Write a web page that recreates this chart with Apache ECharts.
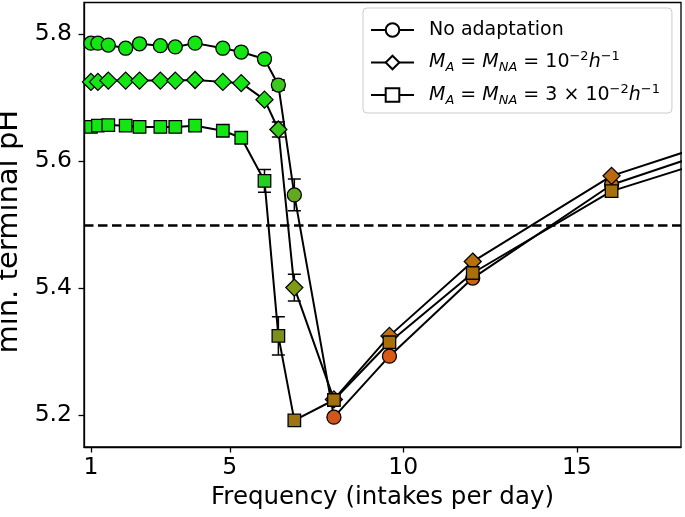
<!DOCTYPE html>
<html><head><meta charset="utf-8">
<script src="https://cdn.jsdelivr.net/npm/echarts@6/dist/echarts.min.js"></script>
<style>html,body{margin:0;padding:0;background:#fff}#c{width:685px;height:517px}</style>
</head><body><div id="c"></div>
<script>
// ---- data ----
const freq = [1, 1.2, 1.5, 2, 2.4, 3, 3.43, 4, 4.8, 5.33, 6, 6.4, 6.86, 8, 9.6, 12, 16, 24];
const phNoAdapt = [5.786, 5.786, 5.783, 5.778, 5.785, 5.782, 5.780, 5.786, 5.778, 5.772, 5.761, 5.720, 5.547, 5.197, 5.293, 5.416, 5.563, 5.71];
const phM1 = [5.725, 5.725, 5.727, 5.727, 5.727, 5.727, 5.727, 5.728, 5.725, 5.723, 5.697, 5.650, 5.401, 5.225, 5.325, 5.442, 5.577, 5.72];
const phM3 = [5.654, 5.656, 5.657, 5.656, 5.654, 5.654, 5.654, 5.656, 5.648, 5.637, 5.569, 5.325, 5.192, 5.224, 5.315, 5.424, 5.553, 5.69];
const errNoAdapt = [0, 0, 0, 0, 0, 0, 0, 0, 0, 0, 0.006, 0.008, 0.025, 0, 0, 0, 0, 0];
const errM1 = [0, 0, 0, 0, 0, 0, 0, 0, 0, 0, 0.004, 0.012, 0.021, 0, 0, 0, 0, 0];
const errM3 = [0, 0, 0, 0, 0, 0, 0, 0, 0, 0, 0.018, 0.03, 0, 0, 0, 0, 0, 0];
const G = '#14e614';
const colNoAdapt = [G, G, G, G, G, G, G, G, G, G, G, '#3cc81e', '#62a820', '#d2561a', '#d85a14', '#c86414', '#c06a10', '#c06a10'];
const colM1 = [G, G, G, G, G, G, G, G, G, G, '#20dc16', '#36c81a', '#809c16', '#a8700e', '#c0700e', '#b8700e', '#b86a0c', '#b86a0c'];
const colM3 = [G, G, G, G, G, G, G, G, G, G, '#22d020', '#7a9018', '#9c7410', '#a2700c', '#a8700a', '#a8700a', '#a6700c', '#a6700c'];
const seriesNames = ['none', 'a1', 'a3'];
const legendLabels = {
  none: 'No adaptation',
  a1: '{i|M}{sb|A}{t| = }{i|M}{sb|NA}{t| = 10}{sp|\u22122}{i|h}{sp|\u22121}',
  a3: '{i|M}{sb|A}{t| = }{i|M}{sb|NA}{t| = 3 \u00d7 10}{sp|\u22122}{i|h}{sp|\u22121}'
};
const xTicks = [1, 5, 10, 15];
const yTicks = [5.2, 5.4, 5.6, 5.8];
const threshold = 5.5;
const xLabel = 'Frequency (intakes per day)';
const yLabel = 'min. terminal pH';

// ---- chart ----
const FONT = 'DejaVu Sans';
function errRender(params, api) {
  const x = api.value(0);
  const a = api.coord([x, api.value(1)]);
  const b = api.coord([x, api.value(2)]);
  const w = 6.5;
  const st = {stroke: '#000', lineWidth: 1.5};
  return {type: 'group', children: [
    {type: 'line', shape: {x1: a[0], y1: a[1], x2: b[0], y2: b[1]}, style: st},
    {type: 'line', shape: {x1: a[0] - w, y1: a[1], x2: a[0] + w, y2: a[1]}, style: st},
    {type: 'line', shape: {x1: b[0] - w, y1: b[1], x2: b[0] + w, y2: b[1]}, style: st}
  ]};
}
function errData(ys, es) {
  const out = [];
  freq.forEach((x, i) => { if (es[i] > 0) out.push([x, ys[i] - es[i], ys[i] + es[i]]); });
  return out;
}
function lineSeries(name, ys, cols, symbol, size) {
  return {
    name: name, type: 'line', symbol: symbol, symbolSize: size, showAllSymbol: true, clip: true,
    lineStyle: {color: '#000', width: 2},
    itemStyle: {color: '#fff', borderColor: '#000', borderWidth: 1.3},
    emphasis: {disabled: true},
    data: freq.map((x, i) => ({value: [x, ys[i]], itemStyle: {color: cols[i], borderColor: '#000', borderWidth: 1.3}}))
  };
}
function errSeries(ys, es) {
  return {type: 'custom', renderItem: errRender, data: errData(ys, es), encode: {x: 0, y: [1, 2]}, clip: true, silent: true};
}
const chart = echarts.init(document.getElementById('c'), null, {renderer: 'canvas'});
const sNone = lineSeries(seriesNames[0], phNoAdapt, colNoAdapt, 'circle', 14);
sNone.markLine = {
  silent: true, symbol: 'none', label: {show: false},
  lineStyle: {color: '#000', width: 2.5, type: [9.5, 4.5]},
  data: [{yAxis: threshold}]
};
chart.setOption({
  animation: false,
  backgroundColor: '#fff',
  textStyle: {fontFamily: FONT, color: '#000'},
  grid: {left: 84, right: 4, top: 2.5, bottom: 70, containLabel: false, outerBoundsMode: 'none',
         show: true, borderColor: '#000', borderWidth: 1.3, backgroundColor: 'transparent'},
  xAxis: {
    type: 'value', min: 0.8, max: 18,
    name: xLabel, nameLocation: 'middle', nameGap: 38,
    nameTextStyle: {fontSize: 24.5, color: '#000', fontFamily: FONT},
    axisLine: {show: true, lineStyle: {color: '#000', width: 1.3}},
    axisTick: {show: true, length: 5.5, lineStyle: {color: '#000', width: 1.3}, customValues: xTicks},
    axisLabel: {fontSize: 23.5, color: '#000', fontFamily: FONT, margin: 9, customValues: xTicks, formatter: v => String(v)},
    splitLine: {show: false}
  },
  yAxis: {
    type: 'value', min: 5.15, max: 5.85,
    name: yLabel, nameLocation: 'middle', nameGap: 52,
    nameTextStyle: {fontSize: 29, color: '#000', fontFamily: FONT, padding: [0, 14, 0, 0]},
    axisLine: {show: true, lineStyle: {color: '#000', width: 1.3}},
    axisTick: {show: true, length: 5.5, lineStyle: {color: '#000', width: 1.3}, customValues: yTicks},
    axisLabel: {fontSize: 23.5, color: '#000', fontFamily: FONT, margin: 12, customValues: yTicks, formatter: v => v.toFixed(1)},
    splitLine: {show: false}
  },
  legend: {
    data: seriesNames, orient: 'vertical', left: 363, top: 8,
    padding: [10, 12, 6, 7], itemGap: 8.5, itemWidth: 43, itemHeight: 17,
    backgroundColor: '#fff', borderColor: '#cccccc', borderWidth: 1, borderRadius: 4,
    formatter: n => legendLabels[n],
    textStyle: {
      fontSize: 19, fontFamily: FONT, color: '#000', lineHeight: 24, padding: [0, 0, 0, 10],
      rich: {
        t: {fontSize: 19, fontFamily: FONT, color: '#000', lineHeight: 24},
        i: {fontSize: 19, fontFamily: FONT, color: '#000', fontStyle: 'italic', lineHeight: 24},
        sb: {fontSize: 13, fontFamily: FONT, color: '#000', fontStyle: 'italic', lineHeight: 13, verticalAlign: 'bottom'},
        sp: {fontSize: 13, fontFamily: FONT, color: '#000', lineHeight: 13, verticalAlign: 'top'}
      }
    }
  },
  series: [
    errSeries(phNoAdapt, errNoAdapt), sNone,
    errSeries(phM1, errM1), lineSeries(seriesNames[1], phM1, colM1, 'diamond', 17),
    errSeries(phM3, errM3), lineSeries(seriesNames[2], phM3, colM3, 'rect', 12.5)
  ]
});
</script></body></html>
